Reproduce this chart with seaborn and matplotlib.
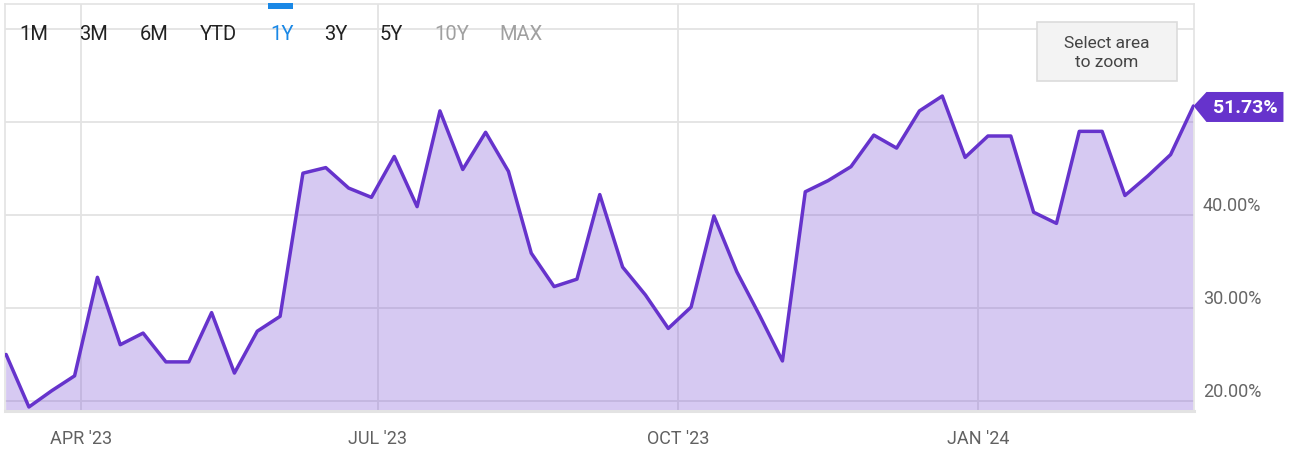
import numpy as np
import pandas as pd
import matplotlib
matplotlib.use("Agg")
import matplotlib.pyplot as plt
import matplotlib.dates as mdates
import matplotlib.transforms as mtransforms
from matplotlib.patches import Rectangle, Polygon
import seaborn as sns

# weekly values (%)
values = [25.0, 19.35, 21.1, 22.7, 33.3, 26.05, 27.3, 24.2, 24.2, 29.5,
          23.0, 27.5, 29.1, 44.5, 45.1, 42.9, 41.9, 46.3, 40.9, 51.2,
          44.9, 48.9, 44.7, 35.9, 32.3, 33.1, 42.2, 34.4, 31.4, 27.8,
          30.1, 39.9, 33.9, 29.2, 24.3, 42.5, 43.7, 45.2, 48.6, 47.2,
          51.2, 52.8, 46.2, 48.5, 48.5, 40.3, 39.1, 49.0, 49.0, 42.1,
          44.2, 46.5, 51.73]
start_date = "2023-03-09"
dates = pd.date_range(start_date, periods=len(values), freq="7D")

month_ticks = pd.to_datetime(["2023-04-01", "2023-07-01", "2023-10-01", "2024-01-01"])
month_labels = ["APR '23", "JUL '23", "OCT '23", "JAN '24"]
y_grid = [20, 30, 40, 50, 60]
y_labels = [20, 30, 40]
buttons = ["1M", "3M", "6M", "YTD", "1Y", "3Y", "5Y", "10Y", "MAX"]
active_button = "1Y"
disabled_buttons = ["10Y", "MAX"]

df = pd.DataFrame({"date": dates, "value": values})

sns.set_theme(style="white")
plt.rcParams["font.family"] = ["Roboto", "DejaVu Sans"]

W, H = 1292, 464
fig = plt.figure(figsize=(W / 100, H / 100), dpi=100)
fig.patch.set_facecolor("white")

# axes placed in pixel terms
left, right, top, bottom = 5, 1194, 5, 411.7
ax = fig.add_axes([left / W, 1 - bottom / H, (right - left) / W, (bottom - top) / H])

line_c = "#6633cc"
fill_c = "#7a4fd6"
grid_c = "#e3e3e3"

sns.lineplot(data=df, x="date", y="value", ax=ax, color=line_c, lw=2.5, zorder=3)
ax.fill_between(df["date"], df["value"], 0, color=fill_c, alpha=0.3, lw=0, zorder=2)

ax.set_xlim(dates[0] - pd.Timedelta(hours=8), dates[-1] + pd.Timedelta(hours=4))
ax.set_ylim(18.95, 62.7)

ax.set_axisbelow(True)
ax.set_yticks(y_grid)
ax.set_yticklabels([])
ax.set_xticks(month_ticks)
ax.set_xticklabels(month_labels, fontsize=13, color="#616161")
ax.tick_params(axis="both", length=0)
ax.tick_params(axis="x", pad=13)
ax.grid(True, color=grid_c, lw=1.3, zorder=0)
ax.set_xlabel("")
ax.set_ylabel("")
for side, sp in ax.spines.items():
    sp.set_color(grid_c)
    sp.set_linewidth(1.2)
ax.spines["bottom"].set_linewidth(2.2)

# y labels sit on the right, just above their gridline
ylab_tr = mtransforms.offset_copy(ax.get_yaxis_transform(), fig=fig, x=9, y=10, units="dots")
for v in y_labels:
    ax.text(1.0, v, f"{v:.2f}%", transform=ylab_tr, ha="left", va="center",
            fontsize=13, color="#666666", clip_on=False)

# range selector buttons
btn_x = [34, 94, 154, 218.5, 282, 335.5, 391.5, 451.5, 521]
for name, bx in zip(buttons, btn_x):
    if name == active_button:
        c = "#1a88e6"
    elif name in disabled_buttons:
        c = "#a0a0a0"
    else:
        c = "#222222"
    fig.text(bx / W, 1 - 34 / H, name, ha="center", va="center", fontsize=14.5, color=c)
fig.patches.append(Rectangle((268 / W, 1 - 9.5 / H), 25 / W, 5.5 / H,
                             transform=fig.transFigure, facecolor="#1a88e6", lw=0))

# "Select area to zoom" box
fig.patches.append(Rectangle((1037 / W, 1 - 82 / H), 140 / W, 59 / H,
                             transform=fig.transFigure, facecolor="#f3f3f3",
                             edgecolor="#dcdcdc", lw=1.2, zorder=5))
fig.text(1107 / W, 1 - 53 / H, "Select area\nto zoom", ha="center", va="center",
         fontsize=12.5, color="#444444", linespacing=1.35, zorder=6)

# last value flag
last_x = mdates.date2num(dates[-1])
tx, ty = ax.transData.transform((last_x, values[-1]))
flag = Polygon([(tx, ty), (tx + 13, ty + 14), (tx + 90, ty + 14),
                (tx + 90, ty - 16), (tx + 13, ty - 16)], closed=True,
               transform=mtransforms.IdentityTransform(), facecolor=line_c,
               edgecolor="none", zorder=10)
fig.patches.append(flag)
fig.text((tx + 52) / W, (ty - 1) / H, f"{values[-1]:.2f}%", ha="center", va="center",
         fontsize=14, fontweight="bold", color="white", zorder=11)

fig.savefig("out.png", dpi=100)
